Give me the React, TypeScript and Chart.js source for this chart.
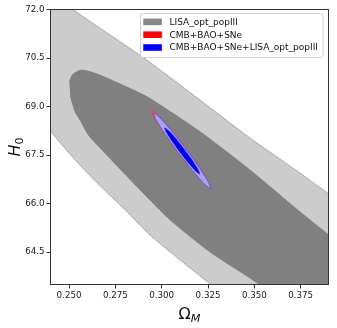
import React, { useEffect, useRef } from 'react';
import { Chart, registerables } from 'chart.js';

Chart.register(...registerables);

// Axis ranges and ticks
const X_RANGE = [0.24, 0.39];
const Y_RANGE = [63.5, 72.0];
const X_TICKS = [0.25, 0.275, 0.3, 0.325, 0.35, 0.375];
const Y_TICKS = [64.5, 66.0, 67.5, 69.0, 70.5, 72.0];

// Legend
const SERIES_LABELS = ['LISA_opt_popIII', 'CMB+BAO+SNe', 'CMB+BAO+SNe+LISA_opt_popIII'];
const SERIES_COLORS = ['#888888', '#ff0000', '#0000ff'];

// Contour vertices [Omega_M, H0] (outer parts run past the axes and are clipped)
const LISA_95: [number, number][] = [
  [0.230, 72.60], [0.2468, 72.31], [0.2522, 72.00], [0.2722, 71.21], [0.2919, 70.44],
  [0.3207, 69.20], [0.3476, 68.03], [0.3745, 66.95], [0.3902, 66.30], [0.3961, 66.05],
  [0.4100, 62.00], [0.3320, 63.21], [0.3266, 63.49], [0.3099, 64.26], [0.2937, 65.03],
  [0.2802, 65.81], [0.2668, 66.55], [0.2533, 67.35], [0.2400, 68.24], [0.2345, 68.61],
];
const LISA_68: [number, number][] = [
  [0.2502, 69.76], [0.2520, 69.99], [0.2569, 70.13], [0.2668, 69.97], [0.2847, 69.51],
  [0.2937, 69.25], [0.3207, 68.22], [0.3476, 67.04], [0.3745, 65.75], [0.3902, 65.03],
  [0.3961, 64.76], [0.4100, 62.00], [0.3562, 63.24], [0.3530, 63.49], [0.3260, 64.51],
  [0.3045, 65.50], [0.2937, 66.11], [0.2668, 67.72], [0.2605, 68.12], [0.2560, 68.58],
  [0.2533, 68.84], [0.2506, 69.35],
];
const CMB_95: [number, number][] = [
  [0.3264, 66.486], [0.3252, 66.686], [0.3200, 67.151], [0.3123, 67.758], [0.3041, 68.342],
  [0.2977, 68.749], [0.2946, 68.868], [0.2958, 68.668], [0.3010, 68.203], [0.3087, 67.597],
  [0.3169, 67.012], [0.3233, 66.605], [0.3264, 66.486],
];
const CMB_68: [number, number][] = [
  [0.3202, 66.954], [0.3193, 67.071], [0.3161, 67.350], [0.3114, 67.717], [0.3065, 68.073],
  [0.3026, 68.323], [0.3009, 68.400], [0.3017, 68.283], [0.3049, 68.004], [0.3096, 67.637],
  [0.3145, 67.281], [0.3184, 67.031], [0.3202, 66.954],
];
const JOINT_95: [number, number][] = [
  [0.3266, 66.454], [0.3254, 66.650], [0.3204, 67.108], [0.3129, 67.705], [0.3049, 68.281],
  [0.2986, 68.682], [0.2956, 68.800], [0.2968, 68.604], [0.3018, 68.146], [0.3093, 67.549],
  [0.3173, 66.973], [0.3236, 66.572], [0.3266, 66.454],
];
const JOINT_68: [number, number][] = [
  [0.3205, 66.915], [0.3198, 67.035], [0.3168, 67.313], [0.3122, 67.675], [0.3074, 68.025],
  [0.3035, 68.268], [0.3017, 68.339], [0.3024, 68.219], [0.3055, 67.941], [0.3100, 67.579],
  [0.3148, 67.229], [0.3187, 66.986], [0.3205, 66.915],
];

const toPoints = (arr: [number, number][]) => arr.map(([x, y]) => ({ x, y }));

const decorPlugin = {
  id: 'decor',
  afterDraw(chart: any) {
    const { ctx, chartArea: a } = chart;
    ctx.save();
    // frame (all four spines)
    ctx.strokeStyle = '#333333';
    ctx.lineWidth = 1;
    ctx.strokeRect(a.left, a.top, a.right - a.left, a.bottom - a.top);

    // legend
    ctx.font = '9px "DejaVu Sans"';
    const maxW = Math.max(...SERIES_LABELS.map((l) => ctx.measureText(l).width));
    const frameRight = a.right - 5.5;
    const textX = frameRight - 5 - maxW;
    const frameLeft = textX - 29;
    const frameTop = a.top + 4;
    const frameH = 44;
    ctx.beginPath();
    (ctx as any).roundRect(frameLeft, frameTop, frameRight - frameLeft, frameH, 2.5);
    ctx.fillStyle = 'rgba(255,255,255,0.85)';
    ctx.fill();
    ctx.strokeStyle = '#d0d0d0';
    ctx.lineWidth = 1;
    ctx.stroke();
    ctx.textBaseline = 'middle';
    ctx.textAlign = 'left';
    SERIES_LABELS.forEach((label, i) => {
      const cy = frameTop + 8.4 + i * 12.8;
      ctx.fillStyle = SERIES_COLORS[i];
      ctx.fillRect(frameLeft + 2.7, cy - 3.3, 18.6, 6.6);
      ctx.fillStyle = '#111111';
      ctx.fillText(label, textX, cy + 0.5);
    });

    // x-axis title: Omega_M
    const cx = (a.left + a.right) / 2;
    ctx.textBaseline = 'alphabetic';
    ctx.font = '16px "DejaVu Sans"';
    const wO = ctx.measureText('\u03A9').width;
    ctx.font = 'italic 11.2px "DejaVu Sans"';
    const wM = ctx.measureText('M').width;
    const startX = cx - (wO + wM) / 2;
    const baseY = a.bottom + 34;
    ctx.fillStyle = '#111111';
    ctx.font = '16px "DejaVu Sans"';
    ctx.fillText('\u03A9', startX, baseY);
    ctx.font = 'italic 11.2px "DejaVu Sans"';
    ctx.fillText('M', startX + wO, baseY + 3.4);

    // y-axis title: H_0
    const cyMid = (a.top + a.bottom) / 2;
    ctx.save();
    ctx.translate(20, cyMid);
    ctx.rotate(-Math.PI / 2);
    ctx.font = 'italic 16px "DejaVu Sans"';
    const wH = ctx.measureText('H').width;
    ctx.font = '11.2px "DejaVu Sans"';
    const w0 = ctx.measureText('0').width;
    const sx = -(wH + w0) / 2;
    ctx.font = 'italic 16px "DejaVu Sans"';
    ctx.fillText('H', sx, 0);
    ctx.font = '11.2px "DejaVu Sans"';
    ctx.fillText('0', sx + wH, 2.5);
    ctx.restore();

    ctx.restore();
  },
};

function contourDataset(data: [number, number][], bg: string, border: string, bw: number, order: number, tension = 0) {
  return {
    data: toPoints(data),
    showLine: true,
    fill: 'shape',
    backgroundColor: bg,
    borderColor: border,
    borderWidth: bw,
    pointRadius: 0,
    pointHoverRadius: 0,
    tension,
    clip: 0,
    order,
  };
}

export default function App() {
  const canvasRef = useRef<HTMLCanvasElement | null>(null);

  useEffect(() => {
    if (!canvasRef.current) return;
    Chart.defaults.font.family = '"DejaVu Sans"';
    const chart = new Chart(canvasRef.current, {
      type: 'scatter',
      data: {
        datasets: [
          contourDataset(LISA_95, '#cccccc', '#aaaaaa', 1, 6, 0.25),
          contourDataset(LISA_68, '#808080', '#7a7a7a', 0.8, 5, 0.25),
          contourDataset(CMB_95, '#f07070', '#e83a3a', 1, 4, 0.2),
          contourDataset(CMB_68, '#ff0000', '#ff0000', 0.5, 3, 0.2),
          contourDataset(JOINT_95, '#a3a3f2', '#7050d8', 1, 2, 0.2),
          contourDataset(JOINT_68, '#0000e6', '#0000e6', 0.5, 1, 0.2),
        ] as any,
      },
      options: {
        animation: false,
        responsive: false,
        events: [],
        layout: { padding: { top: 9.5, right: 8.5, bottom: 0, left: 0 } },
        plugins: { legend: { display: false }, tooltip: { enabled: false } },
        scales: {
          x: {
            type: 'linear',
            min: X_RANGE[0],
            max: X_RANGE[1],
            afterBuildTicks: (s: any) => { s.ticks = X_TICKS.map((value) => ({ value })); },
            afterFit: (s: any) => { s.height = 43.5; },
            ticks: {
              callback: (v: any) => Number(v).toFixed(3),
              font: { size: 8.7 },
              color: '#1a1a1a',
              padding: 2,
              maxRotation: 0,
              autoSkip: false,
            },
            grid: { drawOnChartArea: false, drawTicks: true, tickLength: 4, color: '#333333' },
            border: { display: false },
          },
          y: {
            type: 'linear',
            min: Y_RANGE[0],
            max: Y_RANGE[1],
            afterBuildTicks: (s: any) => { s.ticks = Y_TICKS.map((value) => ({ value })); },
            afterFit: (s: any) => { s.width = 50.5; },
            ticks: {
              callback: (v: any) => Number(v).toFixed(1),
              font: { size: 8.7 },
              color: '#1a1a1a',
              padding: 2,
              autoSkip: false,
            },
            grid: { drawOnChartArea: false, drawTicks: true, tickLength: 4, color: '#333333' },
            border: { display: false },
          },
        },
      } as any,
      plugins: [decorPlugin],
    });
    return () => chart.destroy();
  }, []);

  return (
    <div style={{ position: 'fixed', left: 0, top: 0, width: 337, height: 328, background: '#ffffff' }}>
      <canvas ref={canvasRef} width={337} height={328} style={{ display: 'block' }} />
    </div>
  );
}
